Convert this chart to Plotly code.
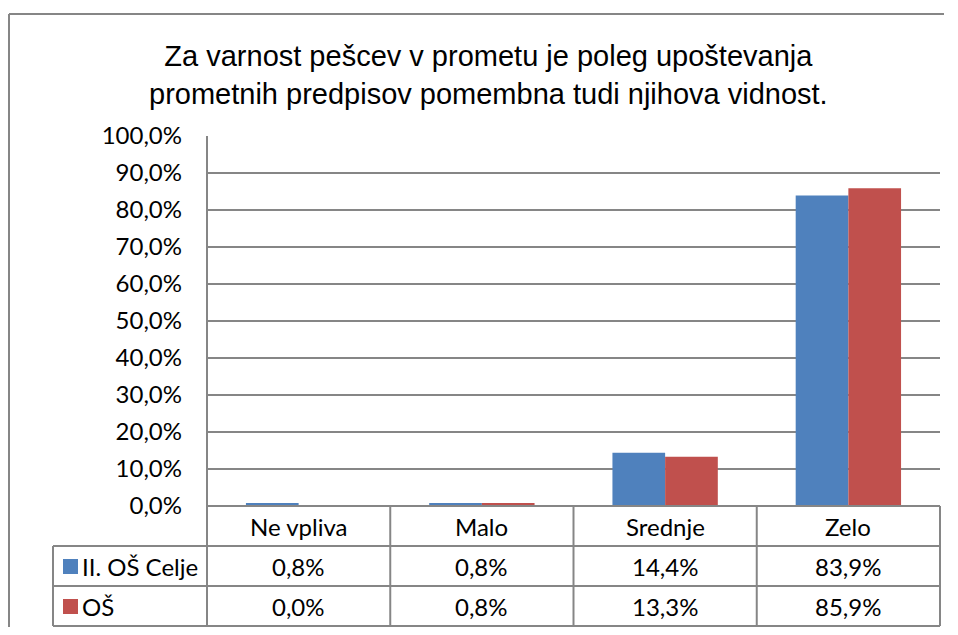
import plotly.graph_objects as go

categories = ["Ne vpliva", "Malo", "Srednje", "Zelo"]
series_names = ["II. OŠ Celje", "OŠ"]
celje = [0.008, 0.008, 0.144, 0.839]
os_vals = [0.000, 0.008, 0.133, 0.859]
colors = ["#4F81BD", "#C0504D"]
title = "Za varnost pešcev v prometu je poleg upoštevanja<br>prometnih predpisov pomembna tudi njihova vidnost."
tick_vals = [i / 10 for i in range(11)]
tick_text = [f"{v*100:.1f}%".replace(".", ",") for v in tick_vals]

OFF = 8  # page body margin
W, H = 958 - 2 * OFF, 635 - 2 * OFF
def px(x):
    return (x - OFF) / W
def py(y):
    return 1 - (y - OFF) / H

x0, x1 = 207, 940
y0, y100 = 506, 136
rows = [506, 546, 586, 626]
tbl_left = 53
gray = "#868686"
font_cal = "Lato, 'Open Sans', sans-serif"
fs = 24

fig = go.Figure()
for name, vals, c in zip(series_names, [celje, os_vals], colors):
    fig.add_trace(go.Bar(x=categories, y=vals, name=name, marker_color=c,
                         marker_line_width=0, showlegend=False, hoverinfo="skip"))

shapes = []
def hline(xa, xb, y, color=gray):
    shapes.append(dict(type="line", xref="paper", yref="paper", x0=px(xa), x1=px(xb), y0=py(y), y1=py(y), line=dict(color=color, width=2)))
def vline(x, ya, yb):
    shapes.append(dict(type="line", xref="paper", yref="paper", x0=px(x), x1=px(x), y0=py(ya), y1=py(yb), line=dict(color=gray, width=2)))

hline(9, 944, 14)
vline(9, 14, 627)
hline(x0, x1, rows[0])
for r in rows[1:]:
    hline(tbl_left, x1, r)
ncat = len(categories)
for i in range(ncat + 1):
    vline(x0 + (x1 - x0) * i / ncat, rows[0], rows[3])
vline(tbl_left, rows[1], rows[3])
vline(x0, y100, y0)

annotations = []
for cat in categories:
    annotations.append(dict(x=cat, xref="x", y=py((rows[0] + rows[1]) / 2), yref="paper",
                            yanchor="middle", text=cat, showarrow=False,
                            font=dict(size=fs, color="#000", family=font_cal)))
for r, vals in enumerate([celje, os_vals]):
    yc = py((rows[r + 1] + rows[r + 2]) / 2)
    for cat, v in zip(categories, vals):
        annotations.append(dict(x=cat, xref="x", y=yc, yref="paper", yanchor="middle",
                                text=f"{v*100:.1f}%".replace(".", ","), showarrow=False,
                                font=dict(size=fs, color="#000", family=font_cal)))
    shapes.append(dict(type="rect", xref="paper", yref="paper", x0=px(63), x1=px(78),
                       y0=yc - 8 / H, y1=yc + 7 / H, fillcolor=colors[r], line=dict(width=0)))
    annotations.append(dict(x=px(80), xref="paper", y=yc, yref="paper", xanchor="left",
                            yanchor="middle", text=series_names[r], showarrow=False,
                            font=dict(size=fs, color="#000", family=font_cal)))

annotations.append(dict(x=px(488), xref="paper", y=py(75), yref="paper", yanchor="middle",
                        xanchor="center", text=title, showarrow=False,
                        font=dict(size=29, color="#000", family="'Liberation Sans', Arial, sans-serif")))

fig.update_layout(
    template="none",
    width=W, height=H, margin=dict(l=0, r=0, t=0, b=0, pad=0), autosize=False,
    paper_bgcolor="white", plot_bgcolor="white",
    barmode="group", bargap=0.425, bargroupgap=0,
    xaxis=dict(domain=[px(x0), px(x1)], showticklabels=False, showgrid=False, zeroline=False,
               showline=False, ticks="", automargin=False),
    yaxis=dict(domain=[py(y0), py(y100)], range=[0, 1], tickvals=tick_vals, ticktext=tick_text,
               showgrid=True, gridcolor=gray, gridwidth=2, zeroline=False, showline=False,
               ticks="", ticklabelstandoff=24, automargin=False,
               tickfont=dict(size=fs, color="#000", family=font_cal)),
    shapes=shapes, annotations=annotations,
)
fig.write_html("out.html", config={"displayModeBar": False})
